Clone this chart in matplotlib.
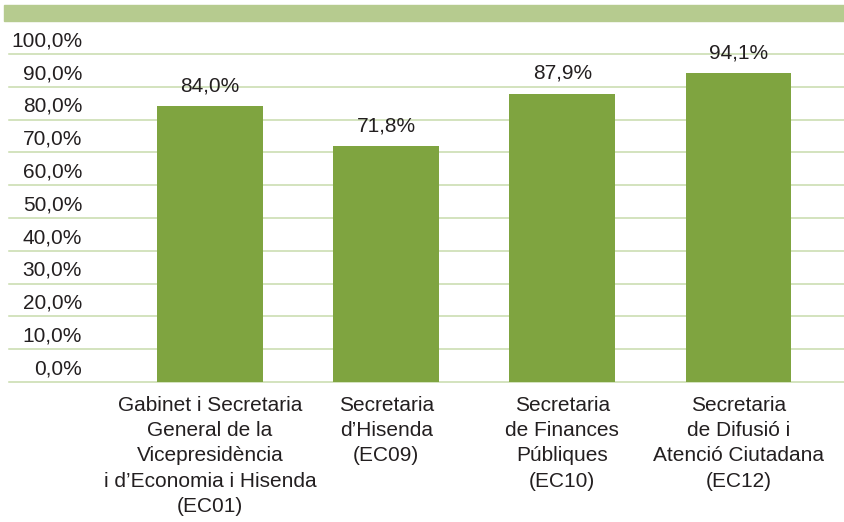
import matplotlib.pyplot as plt
import numpy as np
from matplotlib.patches import Rectangle

categories = [
    "Gabinet i Secretaria\nGeneral de la\nVicepresidència\ni d\u2019Economia i Hisenda\n(EC01)",
    "Secretaria\nd\u2019Hisenda\n(EC09)",
    "Secretaria\nde Finances\nPúbliques\n(EC10)",
    "Secretaria\nde Difusió i\nAtenció Ciutadana\n(EC12)",
]
values = [84.0, 71.8, 87.9, 94.1]
yticks = [0, 10, 20, 30, 40, 50, 60, 70, 80, 90, 100]

bar_color = '#7fa440'
grid_color = '#c8dbac'
band_color = '#b6cb8f'
text_color = '#231f20'

plt.rcParams['font.family'] = ['Liberation Sans', 'DejaVu Sans']

W, H = 844, 522
fig = plt.figure(figsize=(W / 100, H / 100), dpi=100)
# axes: x from 9 to 844 px, y from 54 (100%) to 382 (0%)
ax = fig.add_axes([9 / W, 1 - 382 / H, (844 - 9) / W, (382 - 54) / H])

# bande verte du haut
fig.patches.append(Rectangle((4 / W, 1 - 21 / H), (W - 4) / W, 16 / H,
                             transform=fig.transFigure, color=band_color, zorder=0))

x = np.arange(len(categories))
ax.bar(x, values, width=0.6, color=bar_color, zorder=3)

ax.set_xlim(-1.142, 3.60)
ax.set_ylim(0, 100)

for v in yticks:
    ax.axhline(v, color=grid_color, lw=1.1, zorder=1, clip_on=False)
    ax.annotate(f"{v:.1f}%".replace('.', ','), xy=(-0.727, v), xytext=(0, 9.5),
                textcoords='offset points', ha='right', va='center',
                fontsize=15, color=text_color, annotation_clip=False)

for xi, v in zip(x, values):
    ax.annotate(f"{v:.1f}%".replace('.', ','), xy=(xi, v), xytext=(0, 11),
                textcoords='offset points', ha='center', va='baseline',
                fontsize=15, color=text_color)

ax.set_xticks(x)
ax.set_xticklabels(categories, fontsize=15, color=text_color, linespacing=1.42)
ax.tick_params(axis='x', length=0, pad=10)
ax.set_yticks([])
for s in ax.spines.values():
    s.set_visible(False)

fig.savefig('out.png', dpi=100)
